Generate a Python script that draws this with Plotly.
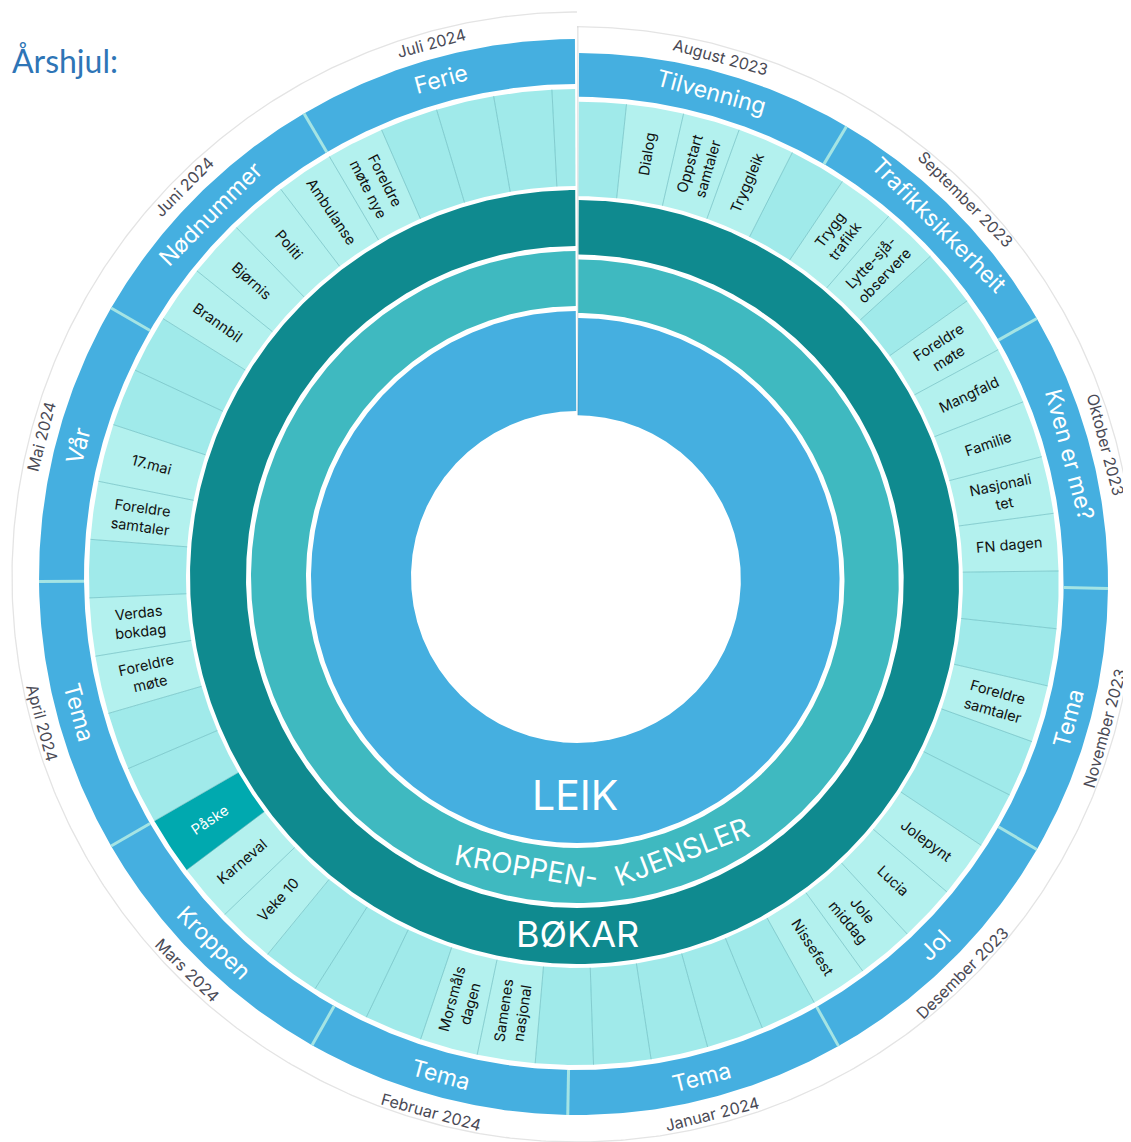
import datetime
import numpy as np
import plotly.graph_objects as go

# ---------------- data ----------------
month_names = ["August 2023", "September 2023", "Oktober 2023", "November 2023",
               "Desember 2023", "Januar 2024", "Februar 2024", "Mars 2024",
               "April 2024", "Mai 2024", "Juni 2024", "Juli 2024"]
month_days = [31, 30, 31, 30, 31, 31, 29, 31, 30, 31, 30, 31]
month_themes = ["Tilvenning", "Trafikksikkerheit", "Kven er me?", "Tema", "Jol", "Tema",
                "Tema", "Kroppen", "Tema", "Vår", "Nødnummer", "Ferie"]
year_start = datetime.date(2023, 8, 1)

# one entry per (Monday-based) week cell, first and last are partial weeks
week_labels = [
    "", "Dialog", "Oppstart<br>samtaler", "Tryggleik", "",
    "Trygg<br>trafikk", "Lytte-sjå-<br>observere", "", "Foreldre<br>møte", "Mangfald",
    "Familie", "Nasjonali<br>tet", "FN dagen", "", "",
    "Foreldre<br>samtaler", "", "", "Jolepynt", "Lucia",
    "Jole<br>middag", "Nissefest", "", "", "",
    "", "", "Samenes<br>nasjonal", "Morsmåls<br>dagen", "",
    "", "", "Veke 10", "Karneval", "Påske",
    "", "", "Foreldre<br>møte", "Verdas<br>bokdag", "",
    "Foreldre<br>samtaler", "17.mai", "", "", "Brannbil",
    "Bjørnis", "Politi", "Ambulanse", "Foreldre<br>møte nye", "",
    "", "", "",
]
highlight_weeks = ["Påske"]

ring_labels = ["BØKAR", "KROPPEN-", "KJENSLER", "LEIK"]
title_text = "Årshjul:"

# ---------------- style / geometry ----------------
W, H = 1131, 1142
OFF = 8            # page body margin, so data units equal page pixels
CX, CY = 577, 577
S_RIGHT = 0.987
R_GRAY = 565
R_MB = (493, 538)
R_WK = (391, 488)
R_DARK = (331, 387)
R_MID = (271, 326)
R_IN = (166, 266)
GAP = 0.22

C_BLUE = "#45AFE0"
C_WEEK = "#A0EAEA"
C_WEEK_LAB = "#B3F1EE"
C_DARK = "#0F8A8F"
C_MID = "#3FB9C0"
C_HI = "#00A9AF"

total_days = sum(month_days)


def d2a(d):
    return d / total_days * 360.0


def pt(r, th):
    t = np.radians(th)
    if th <= 180:
        s = S_RIGHT
        y0 = CY + (1 - s) * r
    else:
        s = 1.0
        y0 = CY
    return CX + s * r * np.sin(t), y0 - s * r * np.cos(t)


def arc_poly(r1, r2, a1, a2, step=0.4):
    n = max(int(abs(a2 - a1) / step) + 2, 3)
    ths = np.linspace(a1, a2, n)
    outer = [pt(r2, t) for t in ths]
    inner = [pt(r1, t) for t in ths[::-1]]
    pts = outer + inner + [outer[0]]
    return [p[0] for p in pts], [p[1] for p in pts]


fig = go.Figure()


def add_poly(r1, r2, a1, a2, color):
    xs, ys = arc_poly(r1, r2, a1, a2)
    fig.add_trace(go.Scatter(x=xs, y=ys, fill="toself", fillcolor=color, mode="lines",
                             line=dict(width=0, color=color), hoverinfo="skip"))


def add_line(xs, ys, color, width):
    fig.add_trace(go.Scatter(x=xs, y=ys, mode="lines", line=dict(color=color, width=width),
                             hoverinfo="skip"))


# outer thin circle (two halves)
for a1, a2 in [(0, 180), (180, 360)]:
    ths = np.linspace(a1, a2, 400)
    p = [pt(R_GRAY, t) for t in ths]
    add_line([q[0] for q in p], [q[1] for q in p], "#E4E4E4", 1.3)

# month band
month_bounds = np.concatenate([[0], np.cumsum(month_days)])
for i in range(len(month_days)):
    a1 = d2a(month_bounds[i])
    a2 = d2a(month_bounds[i + 1])
    if i == 0:
        a1 += GAP
    if i == len(month_days) - 1:
        a2 -= GAP
    add_poly(R_MB[0], R_MB[1], a1, a2, C_BLUE)
for i in range(1, len(month_days)):
    a = d2a(month_bounds[i])
    p1, p2 = pt(R_MB[0], a), pt(R_MB[1], a)
    add_line([p1[0], p2[0]], [p1[1], p2[1]], "#A4E4E4", 3)

# week cells
first_monday = (7 - year_start.weekday()) % 7
week_bounds = [0] + list(range(first_monday, total_days, 7)) + [total_days]
for k, lab in enumerate(week_labels):
    a1 = d2a(week_bounds[k])
    a2 = d2a(week_bounds[k + 1])
    if k == 0:
        a1 += GAP
    if k == len(week_labels) - 1:
        a2 -= GAP
    plain = lab.replace("<br>", " ")
    if plain in highlight_weeks:
        col = C_HI
    elif lab:
        col = C_WEEK_LAB
    else:
        col = C_WEEK
    add_poly(R_WK[0], R_WK[1], a1, a2, col)
for k in range(1, len(week_bounds) - 1):
    a = d2a(week_bounds[k])
    p1, p2 = pt(R_WK[0], a), pt(R_WK[1], a)
    add_line([p1[0], p2[0]], [p1[1], p2[1]], "rgba(95,180,185,0.6)", 1)

# inner rings (two halves split at top)
for (r1, r2), col in [(R_DARK, C_DARK), (R_MID, C_MID), (R_IN, C_BLUE)]:
    add_poly(r1, r2, GAP * 1.2, 180, col)
    add_poly(r1, r2, 180, 360 - GAP * 1.2, col)

# subtle shadow at the top split
add_line([CX + 0.8, CX + 0.8], [pt(R_GRAY, 0.01)[1], pt(R_IN[0], 0.01)[1]],
         "rgba(0,0,0,0.10)", 1.5)

ann = []


def tang_angle(th):
    a = th - 180 if 90 < th < 270 else th
    if a > 180:
        a -= 360
    return a


def rad_angle(th):
    return th - 90 if th < 180 else th - 270


FONT = "Inter, Open Sans, sans-serif"

for i in range(len(month_days)):
    a = d2a((month_bounds[i] + month_bounds[i + 1]) / 2)
    x, y = pt(516, a)
    ann.append(dict(x=x, y=y, text=month_themes[i], textangle=tang_angle(a),
                    font=dict(family=FONT, size=23, color="white")))
    x, y = pt(554, a)
    ann.append(dict(x=x, y=y, text=month_names[i], textangle=tang_angle(a),
                    font=dict(family=FONT, size=16, color="#4A4A55")))

for k, lab in enumerate(week_labels):
    if not lab:
        continue
    a = d2a((week_bounds[k] + week_bounds[k + 1]) / 2)
    x, y = pt(440, a)
    plain = lab.replace("<br>", " ")
    col = "white" if plain in highlight_weeks else "#111111"
    ann.append(dict(x=x, y=y, text=lab, textangle=rad_angle(a),
                    font=dict(family=FONT, size=14.5, color=col)))

# ring labels
x, y = pt(357, 180)
ann.append(dict(x=x, y=y, text=ring_labels[0], textangle=0,
                font=dict(family=FONT, size=36, color="white")))
x, y = pt(294, 189.9)
ann.append(dict(x=x, y=y, text=ring_labels[1], textangle=tang_angle(189.9),
                font=dict(family=FONT, size=28, color="white")))
x, y = pt(294, 158.9)
ann.append(dict(x=x, y=y, text=ring_labels[2], textangle=tang_angle(158.9),
                font=dict(family=FONT, size=28, color="white")))
x, y = pt(218, 180.5)
ann.append(dict(x=x, y=y, text=ring_labels[3], textangle=0,
                font=dict(family=FONT, size=41, color="white")))

for a in ann:
    a.update(showarrow=False, xanchor="center", yanchor="middle", align="center")

ann.append(dict(xref="paper", yref="paper", x=(10 - OFF) / W, y=1 - (61 - OFF) / H,
                text=title_text, showarrow=False, xanchor="left", yanchor="middle",
                font=dict(family="Lato, sans-serif", size=32, color="#2E75B6")))

fig.update_layout(
    width=W, height=H, margin=dict(l=0, r=0, t=0, b=0),
    paper_bgcolor="white", plot_bgcolor="white", showlegend=False,
    xaxis=dict(range=[OFF, W + OFF], visible=False, fixedrange=True),
    yaxis=dict(range=[H + OFF, OFF], visible=False, fixedrange=True),
    annotations=ann,
)

fig.write_html("out.html")
